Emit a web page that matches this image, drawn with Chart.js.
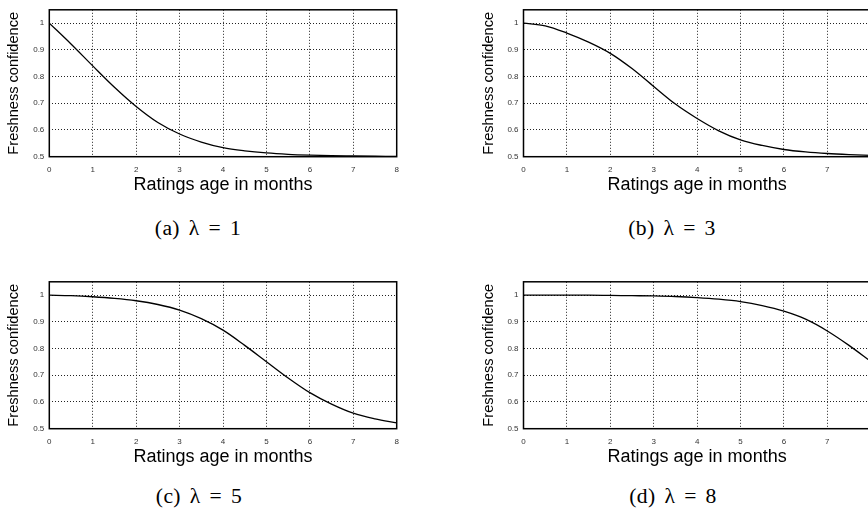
<!DOCTYPE html>
<html>
<head>
<meta charset="utf-8">
<script src="https://cdn.jsdelivr.net/npm/chart.js@4"></script>
<style>
  html, body { margin: 0; padding: 0; background: #fff; }
  body { width: 868px; height: 513px; overflow: hidden; position: relative; }
  canvas { position: absolute; }
  .caption {
    position: absolute;
    font-family: "Liberation Serif", "Times New Roman", serif;
    font-size: 20px;
    color: #000;
    word-spacing: 3px;
    letter-spacing: 0.3px;
    white-space: nowrap;
    transform: translate(-50%, -50%) scaleX(1.08);
  }
</style>
</head>
<body>
<canvas id="chartA" width="434" height="200" style="left:0px;top:0px"></canvas>
<canvas id="chartB" width="450" height="200" style="left:434px;top:0px"></canvas>
<canvas id="chartC" width="434" height="200" style="left:0px;top:271.7px"></canvas>
<canvas id="chartD" width="450" height="200" style="left:434px;top:271.7px"></canvas>

<div class="caption" style="left:198px;top:228px">(a) λ = 1</div>
<div class="caption" style="left:672px;top:228px">(b) λ = 3</div>
<div class="caption" style="left:199px;top:496px">(c) λ = 5</div>
<div class="caption" style="left:673px;top:496px">(d) λ = 8</div>

<script>
const months = [0, 0.5, 1, 1.5, 2, 2.5, 3, 3.5, 4, 4.5, 5, 5.5, 6, 6.5, 7, 7.5, 8];

// Freshness confidence for each lambda
const confLambda1 = [1.0, 0.922, 0.84, 0.76, 0.688, 0.628, 0.585, 0.555, 0.534, 0.522, 0.514, 0.509, 0.506, 0.504, 0.503, 0.502, 0.501];
const confLambda3 = [1.0, 0.99, 0.963, 0.929, 0.887, 0.83, 0.763, 0.697, 0.643, 0.597, 0.563, 0.542, 0.527, 0.518, 0.512, 0.508, 0.505];
const confLambda5 = [1.0, 0.998, 0.994, 0.988, 0.979, 0.965, 0.944, 0.912, 0.869, 0.812, 0.751, 0.69, 0.635, 0.592, 0.558, 0.537, 0.522];
const confLambda8 = [1.0, 1.0, 1.0, 1.0, 0.999, 0.998, 0.997, 0.995, 0.991, 0.985, 0.976, 0.961, 0.94, 0.91, 0.866, 0.812, 0.752];

// Tick labels
const xTicks = [0, 1, 2, 3, 4, 5, 6, 7, 8];
const yTicks = [0.5, 0.6, 0.7, 0.8, 0.9, 1];

const FONT = "'Liberation Sans', Arial, sans-serif";

// Box round the plot area, like gnuplot's border
const framePlugin = {
    id: 'frame',
    afterDatasetsDraw(chart) {
        const a = chart.chartArea;
        const ctx = chart.ctx;
        ctx.save();
        ctx.strokeStyle = '#000';
        ctx.lineWidth = 1.5;
        ctx.strokeRect(a.left, a.top, a.right - a.left, a.bottom - a.top);
        ctx.restore();
    }
};

// Creates one freshness-confidence plot
function createFreshnessChart(canvasId, values, axisWidth, titleCenter, rightPad) {
    return new Chart(canvasId, {
        type: 'line',
        data: {
            datasets: [{
                data: months.map((m, i) => ({ x: m, y: values[i] })),
                borderColor: '#000',
                borderWidth: 1.3,
                pointRadius: 0,
                fill: false,
                cubicInterpolationMode: 'monotone'
            }]
        },
        options: {
            responsive: false,
            animation: false,
            layout: { padding: { left: 0, top: 5, right: rightPad, bottom: 0 } },
            plugins: {
                legend: { display: false },
                tooltip: { enabled: false }
            },
            scales: {
                x: {
                    type: 'linear',
                    min: 0,
                    max: 8,
                    afterBuildTicks: s => { s.ticks = xTicks.map(v => ({ value: v })); },
                    afterFit: s => { s.height = 43.3; },
                    grid: { color: '#222', lineWidth: 1, drawTicks: false },
                    border: { display: false, dash: [1, 2] },
                    ticks: {
                        padding: 8,
                        color: '#333',
                        font: { family: FONT, size: 8 },
                        maxRotation: 0,
                        callback: v => String(v)
                    },
                    title: {
                        display: true,
                        text: 'Ratings age in months',
                        color: '#000',
                        font: { family: FONT, size: 18 },
                        padding: { top: 0, bottom: 4.5 }
                    }
                },
                y: {
                    min: 0.5,
                    max: 1.05,
                    afterBuildTicks: s => { s.ticks = yTicks.map(v => ({ value: v })); },
                    afterFit: s => { s.width = axisWidth; },
                    grid: { color: '#222', lineWidth: 1, drawTicks: false },
                    border: { display: false, dash: [1, 2] },
                    ticks: {
                        padding: 5,
                        color: '#333',
                        font: { family: FONT, size: 8 },
                        callback: v => String(v)
                    },
                    title: {
                        display: true,
                        text: 'Freshness confidence',
                        color: '#000',
                        font: { family: FONT, size: 14.6 },
                        padding: { top: titleCenter - 8.76, bottom: 0 }
                    }
                }
            }
        },
        plugins: [framePlugin]
    });
}

createFreshnessChart('chartA', confLambda1, 49.3, 14.2, 37.3);
createFreshnessChart('chartB', confLambda3, 89.5, 55.2, 13.3);
createFreshnessChart('chartC', confLambda5, 49.3, 14.2, 37.3);
createFreshnessChart('chartD', confLambda8, 89.5, 55.2, 13.3);
</script>
</body>
</html>
